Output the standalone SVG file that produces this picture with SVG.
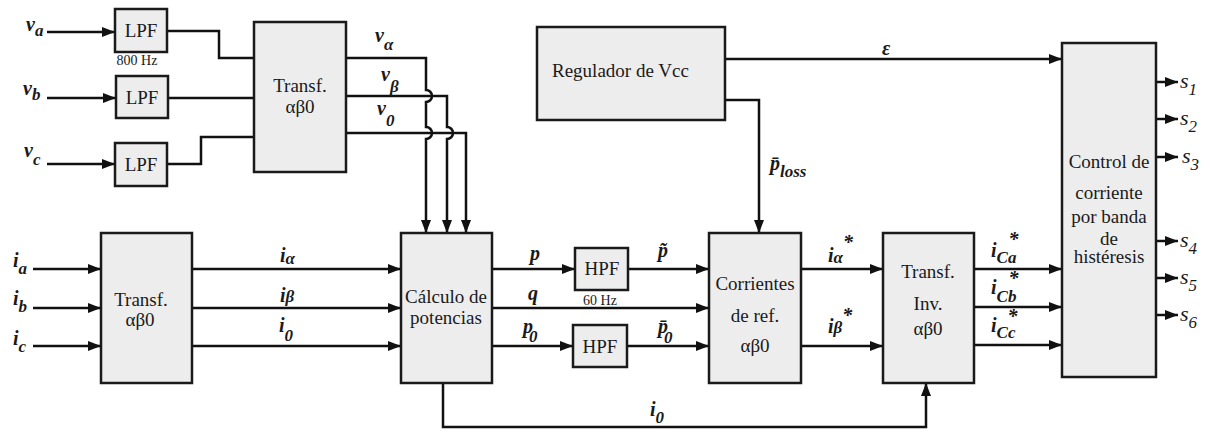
<svg xmlns="http://www.w3.org/2000/svg" width="1212" height="432" viewBox="0 0 1212 432">
<style>
.box{fill:#ededed;stroke:#1a1a1a;stroke-width:2.5}
.t{font-family:"Liberation Serif",serif;font-size:19px;fill:#1a1a1a;text-anchor:middle}
.sm{font-family:"Liberation Serif",serif;font-size:14px;fill:#1a1a1a;text-anchor:middle}
.m{font-family:"Liberation Serif",serif;font-size:20px;font-weight:bold;font-style:italic;fill:#1a1a1a}
.s{font-family:"Liberation Serif",serif;font-size:22px;font-style:italic;fill:#1a1a1a}
.sub{font-size:17px}
.c{fill:none;stroke:#111;stroke-width:2.5}
.a{marker-end:url(#ah)}
</style>
<defs>
<marker id="ah" markerUnits="userSpaceOnUse" markerWidth="13" markerHeight="10" refX="13" refY="5" orient="auto">
<path d="M0,0 L13,5 L0,10 z" fill="#111"/>
</marker>
</defs>

<g id="connectors">
<path class="c a" d="M47,32 H115"/>
<path class="c a" d="M47,98 H116"/>
<path class="c a" d="M47,164 H115"/>
<path class="c" d="M167,31 H219 V58 H254"/>
<path class="c" d="M168,98 H254"/>
<path class="c" d="M167,164 H201 V137 H254"/>
<path class="c a" d="M346,58 H426 V90 a6,6 0 0 1 0,12 V127 a6,6 0 0 1 0,12 V233"/>
<path class="c a" d="M346,96 H447 V127 a6,6 0 0 1 0,12 V233"/>
<path class="c a" d="M346,133 H466 V233"/>
<path class="c a" d="M33,269 H101"/>
<path class="c a" d="M33,308 H101"/>
<path class="c a" d="M33,346 H101"/>
<path class="c a" d="M192,269 H401"/>
<path class="c a" d="M192,308 H401"/>
<path class="c a" d="M192,346 H401"/>
<path class="c a" d="M492,269 H575"/>
<path class="c a" d="M492,308 H709"/>
<path class="c a" d="M492,346 H573"/>
<path class="c a" d="M628,269 H709"/>
<path class="c a" d="M627,346 H709"/>
<path class="c a" d="M801,269 H883"/>
<path class="c a" d="M801,346 H883"/>
<path class="c a" d="M974,269 H1062"/>
<path class="c a" d="M974,307 H1062"/>
<path class="c a" d="M974,345 H1062"/>
<path class="c a" d="M443,383 V427 H926 V383"/>
<path class="c a" d="M725,59 H1062"/>
<path class="c a" d="M725,100 H759 V233"/>
<path class="c a" d="M1156,82 H1178"/>
<path class="c a" d="M1156,119 H1178"/>
<path class="c a" d="M1156,157 H1178"/>
<path class="c a" d="M1156,241 H1178"/>
<path class="c a" d="M1156,278 H1178"/>
<path class="c a" d="M1156,315 H1178"/>
</g>

<g id="lpf1"><rect class="box" x="115" y="9" width="52" height="43"/><text class="t" x="141" y="37">LPF</text><text class="sm" x="137" y="65">800 Hz</text></g>
<g id="lpf2"><rect class="box" x="116" y="76" width="52" height="42"/><text class="t" x="142" y="104">LPF</text></g>
<g id="lpf3"><rect class="box" x="115" y="143" width="52" height="43"/><text class="t" x="141" y="171">LPF</text></g>
<g id="transf-v"><rect class="box" x="254" y="22" width="92" height="150"/><text class="t" x="300" y="92">Transf.</text><text class="t" x="300" y="113">αβ0</text></g>
<g id="transf-i"><rect class="box" x="101" y="233" width="91" height="150"/><text class="t" x="141" y="306">Transf.</text><text class="t" x="140" y="326">αβ0</text></g>
<g id="calculo"><rect class="box" x="401" y="233" width="91" height="150"/><text class="t" x="446" y="303">Cálculo de</text><text class="t" x="446" y="324">potencias</text></g>
<g id="hpf1"><rect class="box" x="575" y="248" width="53" height="42"/><text class="t" x="602" y="275">HPF</text><text class="sm" x="600" y="305">60 Hz</text></g>
<g id="hpf2"><rect class="box" x="573" y="325" width="54" height="42"/><text class="t" x="600" y="353">HPF</text></g>
<g id="regulador"><rect class="box" x="537" y="27" width="188" height="93"/><text class="t" x="552" y="77" style="text-anchor:start">Regulador de Vcc</text></g>
<g id="corrientes"><rect class="box" x="709" y="233" width="92" height="150"/><text class="t" x="755" y="290">Corrientes</text><text class="t" x="755" y="322">de ref.</text><text class="t" x="755" y="352">αβ0</text></g>
<g id="transf-inv"><rect class="box" x="883" y="233" width="91" height="150"/><text class="t" x="928" y="278">Transf.</text><text class="t" x="928" y="310">Inv.</text><text class="t" x="928" y="335">αβ0</text></g>
<g id="control"><rect class="box" x="1062" y="43" width="94" height="334"/><text class="t" x="1109" y="168">Control de</text><text class="t" x="1109" y="199">corriente</text><text class="t" x="1109" y="223">por banda</text><text class="t" x="1109" y="245">de</text><text class="t" x="1109" y="263">histéresis</text></g>

<g id="labels">
<text class="m" x="26" y="31">v<tspan class="sub" dy="5">a</tspan></text>
<text class="m" x="23" y="95">v<tspan class="sub" dy="5">b</tspan></text>
<text class="m" x="24" y="157">v<tspan class="sub" dy="8">c</tspan></text>
<text class="m" x="13" y="267">i<tspan class="sub" dy="7">a</tspan></text>
<text class="m" x="13" y="305">i<tspan class="sub" dy="7">b</tspan></text>
<text class="m" x="13" y="345">i<tspan class="sub" dy="7">c</tspan></text>
<text class="m" x="375" y="42">v<tspan class="sub" dy="8">α</tspan></text>
<text class="m" x="381" y="81">v<tspan class="sub" dy="11">β</tspan></text>
<text class="m" x="377" y="115">v<tspan class="sub" dy="11">0</tspan></text>
<text class="m" x="280" y="262">i<tspan class="sub" dy="2">α</tspan></text>
<text class="m" x="280" y="302">i<tspan class="sub" dy="0">β</tspan></text>
<text class="m" x="279" y="332">i<tspan class="sub" dy="9">0</tspan></text>
<text class="m" x="530" y="260">p</text>
<text class="m" x="528" y="300">q</text>
<text class="m" x="523" y="333">p<tspan class="sub" dx="-4" dy="9">0</tspan></text>
<text class="m" x="658" y="257">p̃</text>
<text class="m" x="658" y="333">p̄<tspan class="sub" dx="-4" dy="10">0</tspan></text>
<text class="m" x="770" y="170">p̄<tspan class="sub" dy="7">loss</tspan></text>
<text class="m" x="882" y="55">ε</text>
<text class="m" x="828" y="262">i<tspan class="sub" dy="1">α</tspan><tspan dy="-14">*</tspan></text>
<text class="m" x="828" y="333">i<tspan class="sub" dy="0">β</tspan><tspan dy="-11">*</tspan></text>
<text class="m" x="991" y="257">i<tspan class="sub" dy="6">Ca</tspan><tspan dy="-17" dx="-8">*</tspan></text>
<text class="m" x="991" y="294">i<tspan class="sub" dy="8">Cb</tspan><tspan dy="-17" dx="-8">*</tspan></text>
<text class="m" x="991" y="332">i<tspan class="sub" dy="6">Cc</tspan><tspan dy="-15" dx="-8">*</tspan></text>
<text class="s" x="1180" y="88">s<tspan class="sub" dy="7">1</tspan></text>
<text class="s" x="1180" y="125">s<tspan class="sub" dy="7">2</tspan></text>
<text class="s" x="1182" y="163">s<tspan class="sub" dy="7">3</tspan></text>
<text class="s" x="1180" y="247">s<tspan class="sub" dy="7">4</tspan></text>
<text class="s" x="1180" y="284">s<tspan class="sub" dy="7">5</tspan></text>
<text class="s" x="1180" y="321">s<tspan class="sub" dy="7">6</tspan></text>
<text class="m" x="650" y="416">i<tspan class="sub" dy="7">0</tspan></text>
</g>
</svg>
